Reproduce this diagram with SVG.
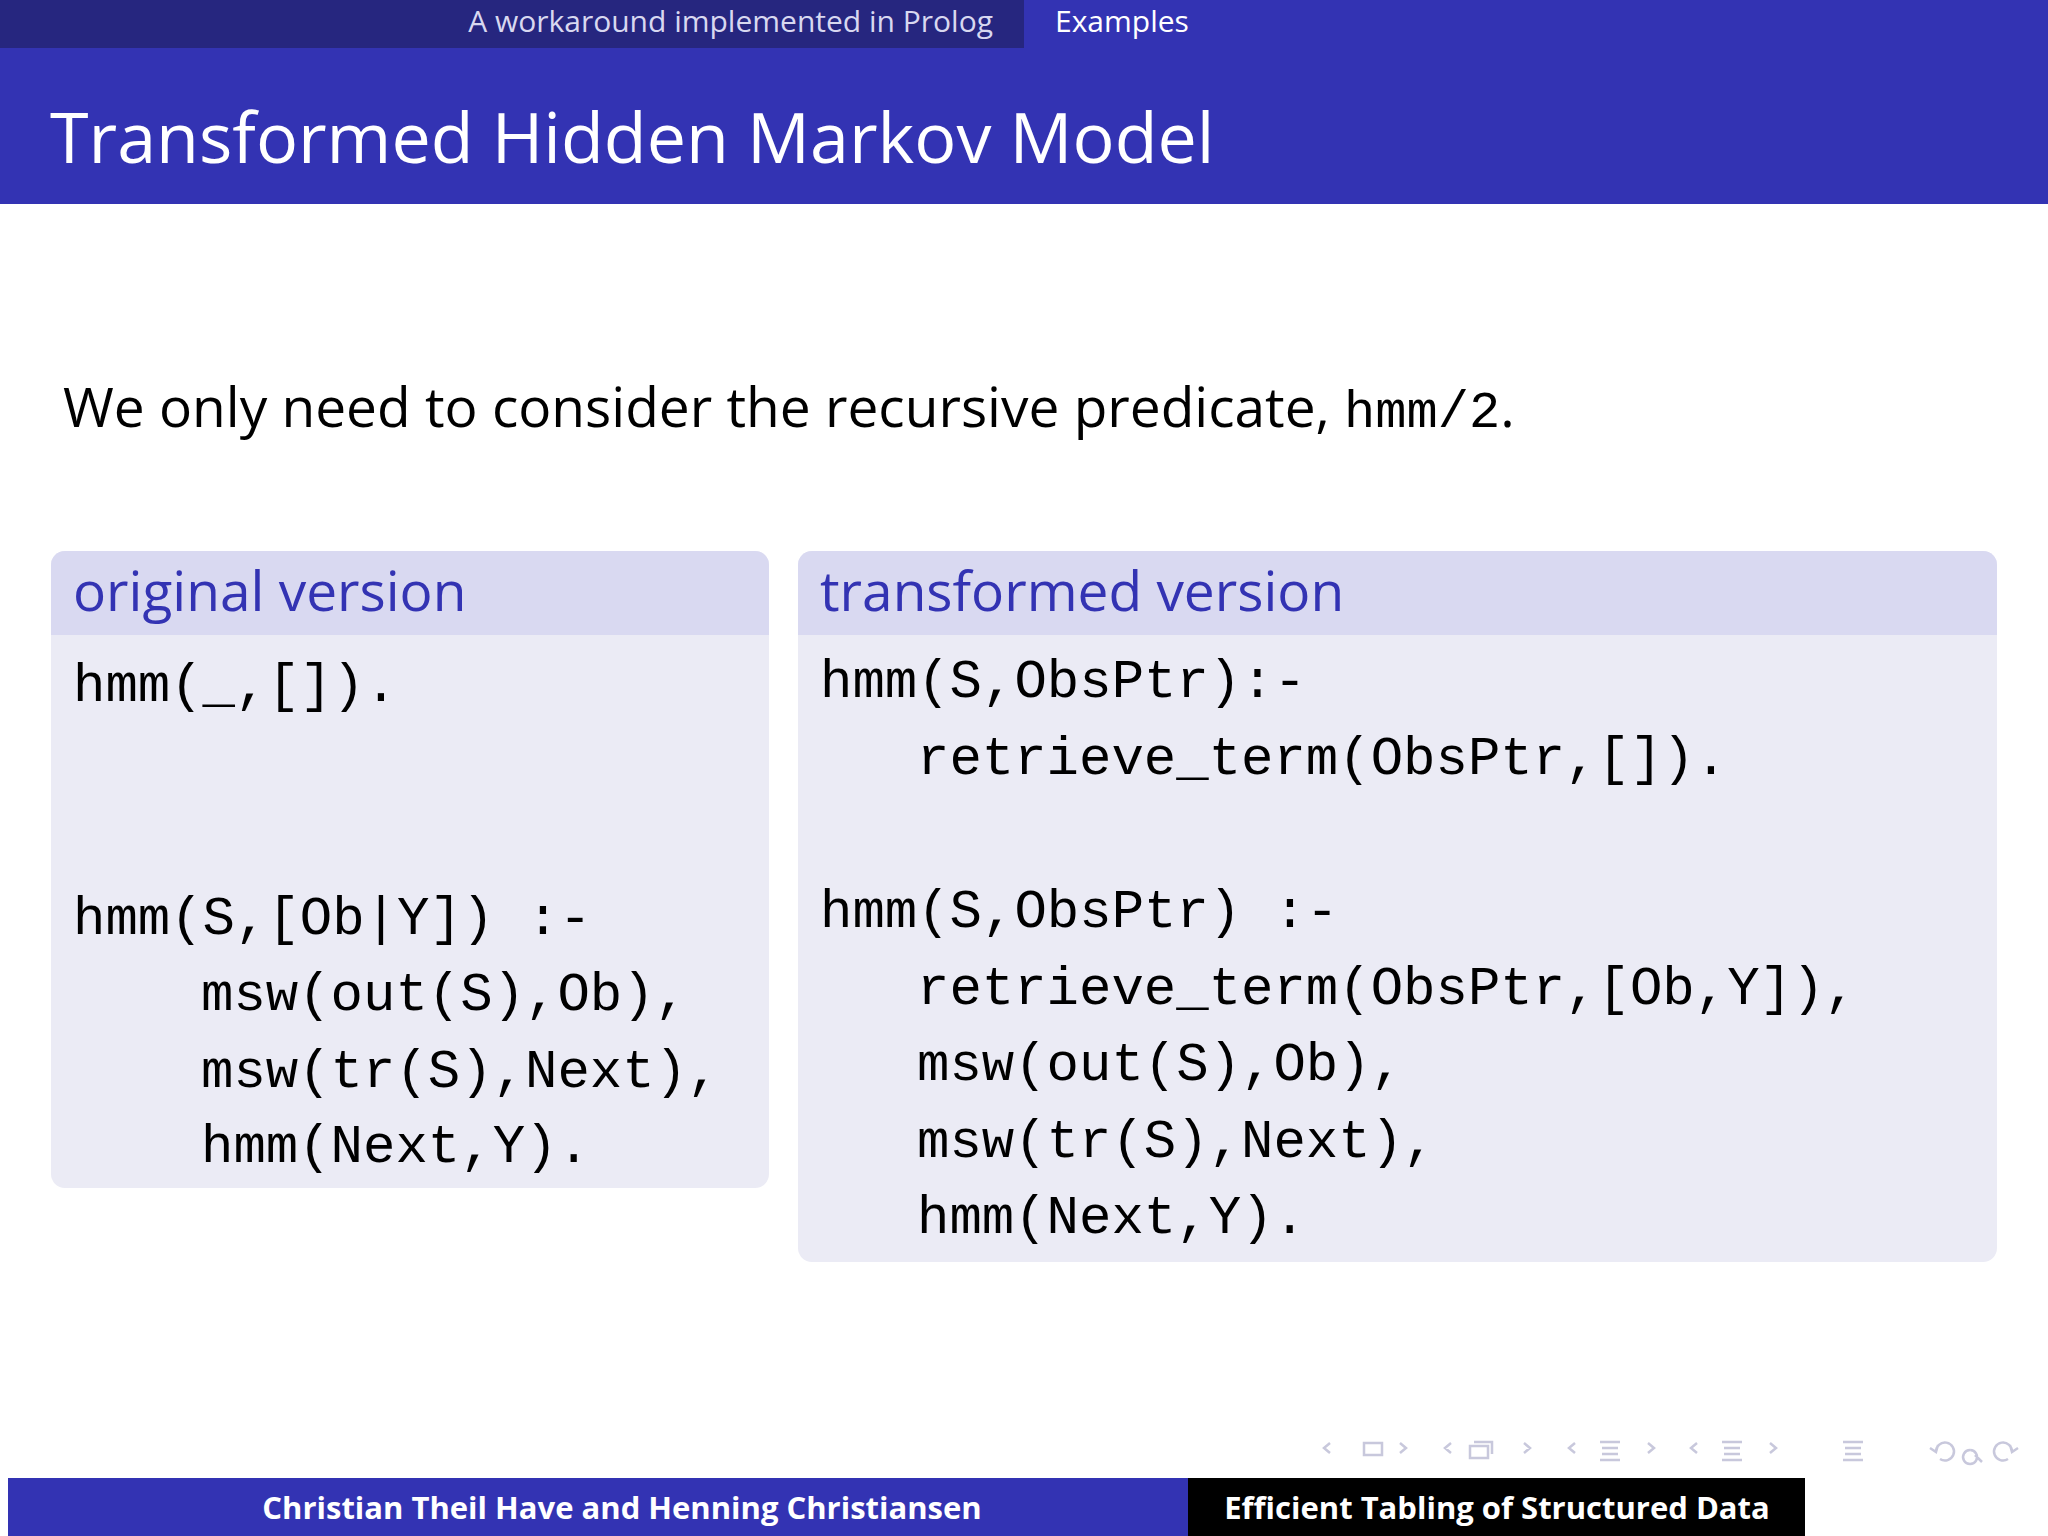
<svg xmlns="http://www.w3.org/2000/svg" width="2048" height="1536" viewBox="0 0 2048 1536">
<style>
.sans{font-family:"Open Sans","DejaVu Sans",sans-serif}
.code{font-family:"Liberation Mono",monospace;font-size:54px;fill:#000}
.hd{font-family:"Open Sans","DejaVu Sans",sans-serif;font-size:55px;fill:#3333b3}
.nav{fill:none;stroke:#c8c8dc;stroke-width:2.5}
</style>
<rect width="2048" height="1536" fill="#fff"/>
<rect x="0" y="0" width="1024" height="48" fill="#26267f"/>
<rect x="1024" y="0" width="1024" height="48" fill="#3333b3"/>
<text x="993" y="32" text-anchor="end" class="sans" font-size="30" fill="#d8d8f0">A workaround implemented in Prolog</text>
<text x="1055" y="32" class="sans" font-size="30" fill="#fff">Examples</text>
<rect x="0" y="48" width="2048" height="156" fill="#3333b3"/>
<text x="50" y="163" class="sans" font-size="70" fill="#fff">Transformed Hidden Markov Model</text>
<text x="63" y="427" class="sans" font-size="55" fill="#000">We only need to consider the recursive predicate, <tspan font-family="Liberation Mono,monospace" font-size="52">hmm/2</tspan>.</text>
<g id="original">
<rect x="51" y="551" width="718" height="637" rx="14" fill="#ebebf5"/>
<path d="M51 635 V565 a14 14 0 0 1 14 -14 H755 a14 14 0 0 1 14 14 V635 Z" fill="#d9d9f1"/>
<text x="73" y="611" class="hd">original version</text>
<text class="code" xml:space="preserve"><tspan x="73" y="701">hmm(_,[]).</tspan><tspan x="73" y="934">hmm(S,[Ob|Y]) :-</tspan><tspan x="201" y="1010">msw(out(S),Ob),</tspan><tspan x="201" y="1087">msw(tr(S),Next),</tspan><tspan x="201" y="1162">hmm(Next,Y).</tspan></text>
</g>
<g id="transformed">
<rect x="798" y="551" width="1199" height="711" rx="14" fill="#ebebf5"/>
<path d="M798 635 V565 a14 14 0 0 1 14 -14 H1983 a14 14 0 0 1 14 14 V635 Z" fill="#d9d9f1"/>
<text x="820" y="611" class="hd">transformed version</text>
<text class="code" xml:space="preserve"><tspan x="820" y="697">hmm(S,ObsPtr):-</tspan><tspan x="917" y="774">retrieve_term(ObsPtr,[]).</tspan><tspan x="820" y="927">hmm(S,ObsPtr) :-</tspan><tspan x="917" y="1004">retrieve_term(ObsPtr,[Ob,Y]),</tspan><tspan x="917" y="1080">msw(out(S),Ob),</tspan><tspan x="917" y="1157">msw(tr(S),Next),</tspan><tspan x="917" y="1233">hmm(Next,Y).</tspan></text>
</g>
<g id="navigation">
<path class="nav" d="M1330 1443 l-6 5 6 5 M1364 1443 h18 v12 h-18 z M1400 1443 l6 5 -6 5"/>
<path class="nav" d="M1451 1443 l-6 5 6 5 M1470 1446 h18 v12 h-18 z M1474 1442 h18 v12 M1524 1443 l6 5 -6 5"/>
<path class="nav" d="M1575 1443 l-6 5 6 5 M1600 1442 h20 M1602 1448 h16 M1602 1454 h16 M1600 1460 h20 M1648 1443 l6 5 -6 5"/>
<path class="nav" d="M1697 1443 l-6 5 6 5 M1722 1442 h20 M1724 1448 h16 M1724 1454 h16 M1722 1460 h20 M1770 1443 l6 5 -6 5"/>
<path class="nav" d="M1843 1442 h20 M1845 1448 h16 M1845 1454 h16 M1843 1460 h20"/>
<path class="nav" d="M1936 1452 a9 9 0 1 1 4 7 M1930 1448 l6 4 2 -7 M1970 1450 a7 7 0 1 0 0.1 0 M1975 1455 l7 7 M2012 1452 a9 9 0 1 0 -4 7 M2018 1448 l-6 4 -2 -7"/>
</g>
<rect x="8" y="1478" width="1180" height="58" fill="#3333b3"/>
<rect x="1188" y="1478" width="617" height="58" fill="#000"/>
<text x="622" y="1519" text-anchor="middle" class="sans" font-size="31" font-weight="bold" fill="#fff">Christian Theil Have and Henning Christiansen</text>
<text x="1497" y="1519" text-anchor="middle" class="sans" font-size="31" font-weight="bold" fill="#fff">Efficient Tabling of Structured Data</text>
</svg>
